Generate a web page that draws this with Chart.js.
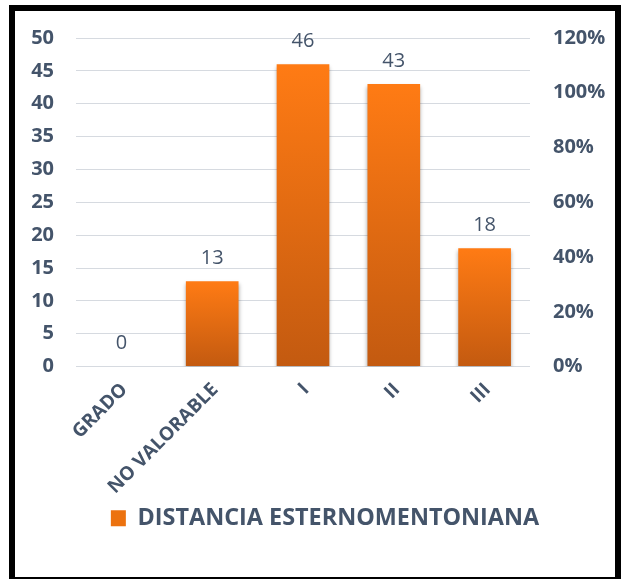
<!DOCTYPE html>
<html>
<head>
<meta charset="utf-8">
<script src="https://cdn.jsdelivr.net/npm/chart.js@4.4.1/dist/chart.umd.min.js"></script>
<style>
  html, body { margin: 0; padding: 0; background: #fff; overflow: hidden; }
  canvas { display: block; }
</style>
</head>
<body>
<canvas id="grafico" width="622" height="579"></canvas>
<script>
var categorias = ['GRADO', 'NO VALORABLE', 'I', 'II', 'III'];
var valores    = [0, 13, 46, 43, 18];
var serie      = 'DISTANCIA ESTERNOMENTONIANA';
var ejeIzqMax  = 50, ejeIzqPaso = 5;
var ejeDerMax  = 1.2, ejeDerPaso = 0.2;

var textoColor = '#44546A';
var fuente = "'Open Sans', sans-serif";

function degradado(ctx) {
    var chart = ctx.chart;
    var area = chart.chartArea;
    if (!area || ctx.dataIndex === undefined) return '#E46C0A';
    var y = chart.scales.y;
    var top = y.getPixelForValue(valores[ctx.dataIndex]);
    var base = y.getPixelForValue(0);
    if (base - top < 1) return '#E46C0A';
    var g = chart.ctx.createLinearGradient(0, top, 0, base);
    g.addColorStop(0, '#FF7B14');
    g.addColorStop(1, '#C35A10');
    return g;
}

var sombra = {
    id: 'sombra',
    beforeDatasetsDraw: function(chart) {
        var c = chart.ctx;
        c.save();
        c.shadowColor = 'rgba(0,0,0,0.35)';
        c.shadowBlur = 4;
        c.shadowOffsetY = 3;
    },
    afterDatasetsDraw: function(chart) {
        chart.ctx.restore();
    }
};

var etiquetas = {
    id: 'etiquetas',
    afterDatasetsDraw: function(chart) {
        var c = chart.ctx;
        var meta = chart.getDatasetMeta(0);
        c.save();
        c.fillStyle = textoColor;
        c.font = '20px ' + fuente;
        c.textAlign = 'center';
        c.textBaseline = 'middle';
        meta.data.forEach(function(bar, i) {
            c.fillText(String(valores[i]), bar.x, bar.y - 23);
        });
        c.restore();
    }
};

// marco negro alrededor del grafico
var marco = {
    id: 'marco',
    afterDraw: function(chart) {
        var c = chart.ctx;
        c.save();
        c.strokeStyle = '#000';
        c.lineWidth = 6;
        c.strokeRect(12, 8, 606, 572);
        c.restore();
    }
};

var context = document.getElementById('grafico').getContext('2d');
var chart = new Chart(context, {
    type: 'bar',
    data: {
        labels: categorias,
        datasets: [{
            label: serie,
            data: valores,
            backgroundColor: degradado,
            categoryPercentage: 1,
            barPercentage: 0.58,
            yAxisID: 'y'
        }]
    },
    options: {
        responsive: false,
        animation: false,
        devicePixelRatio: 1,
        layout: { padding: { left: 15, right: -13, top: 38, bottom: 39 } },
        scales: {
            x: {
                grid: { display: false },
                border: { display: false },
                ticks: {
                    color: textoColor,
                    font: { family: fuente, size: 19, weight: 'bold' },
                    minRotation: 45, maxRotation: 45,
                    padding: 4,
                    labelOffset: 3
                },
                afterFit: function(s) { s.height = 130; }
            },
            y: {
                position: 'left',
                min: 0, max: ejeIzqMax,
                ticks: {
                    stepSize: ejeIzqPaso,
                    color: textoColor,
                    padding: 22,
                    font: { family: fuente, size: 20, weight: 'bold' }
                },
                grid: { color: '#D6DAE0', drawTicks: false, lineWidth: 1 },
                border: { display: false },
                afterFit: function(s) { s.width = 61; }
            },
            y2: {
                position: 'right',
                display: true,
                min: 0, max: ejeDerMax,
                ticks: {
                    stepSize: ejeDerPaso,
                    color: textoColor,
                    padding: 23,
                    font: { family: fuente, size: 20, weight: 'bold' },
                    callback: function(v) { return Math.round(v * 100) + '%'; }
                },
                grid: { display: false, drawTicks: false },
                border: { display: false },
                afterFit: function(s) { s.width = 105; }
            }
        },
        plugins: {
            tooltip: { enabled: false },
            legend: {
                position: 'bottom',
                labels: {
                    color: textoColor,
                    font: { family: fuente, size: 23.4, weight: 'bold' },
                    boxWidth: 15, boxHeight: 16,
                    padding: 10,
                    generateLabels: function(ch) {
                        return [{
                            text: serie,
                            fillStyle: '#EC720F',
                            strokeStyle: '#EC720F',
                            lineWidth: 0,
                            fontColor: textoColor,
                            datasetIndex: 0
                        }];
                    }
                }
            }
        }
    },
    plugins: [sombra, etiquetas, marco]
});
</script>
</body>
</html>
